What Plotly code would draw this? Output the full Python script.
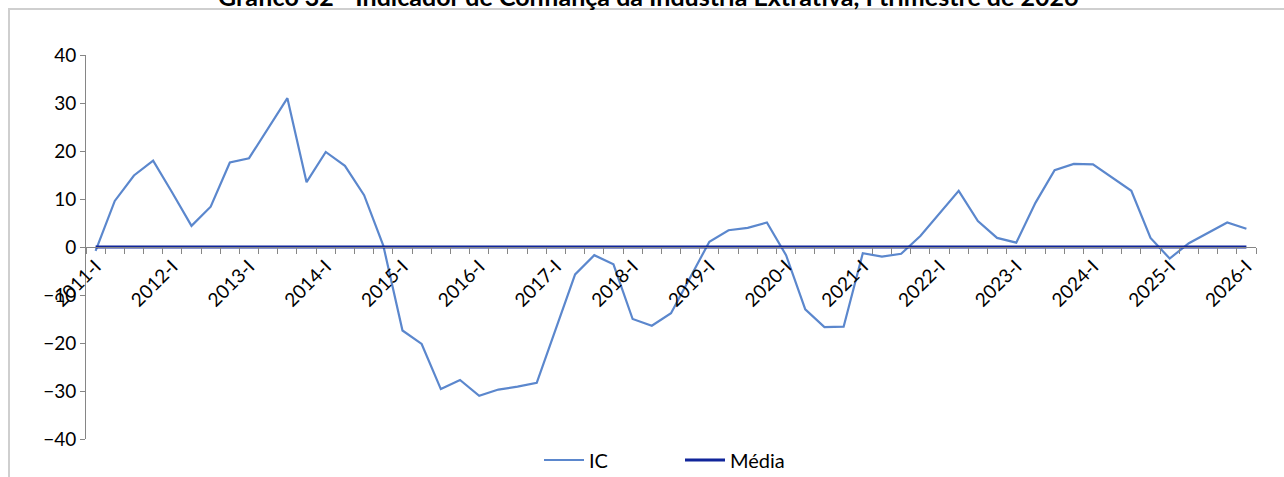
import plotly.graph_objects as go

years = list(range(2011, 2027))
roman = ["I", "II", "III", "IV"]
categories = [f"{y}-{q}" for y in years for q in roman][:61]

ic = [-0.8, 9.6, 14.9, 18.0, 11.3, 4.4, 8.4, 17.6, 18.5, 24.7,
      31.0, 13.5, 19.8, 16.9, 10.8, 0.3, -17.4, -20.2, -29.6, -27.7,
      -31.0, -29.7, -29.1, -28.3, -17.0, -5.7, -1.7, -3.6, -15.0, -16.4,
      -13.8, -6.5, 1.1, 3.5, 4.0, 5.1, -1.7, -13.0, -16.7, -16.6,
      -1.3, -2.0, -1.4, 2.3, 7.1, 11.7, 5.4, 1.9, 0.9, 9.2,
      16.0, 17.3, 17.2, 14.5, 11.7, 1.9, -2.4, 0.8, 2.9, 5.1,
      3.8]
media_value = 0.0
media = [media_value for _ in categories]

label_idx = [i for i, c in enumerate(categories) if c.endswith("-I")]
label_txt = [categories[i] for i in label_idx]

title = "Gráfico 32 - Indicador de Confiança da Indústria Extrativa, I trimestre de 2026"

FONT = "Lato"
xs = list(range(len(categories)))

fig = go.Figure()
fig.add_trace(go.Scatter(x=xs, y=ic, mode="lines", name="IC",
                         line=dict(color="#5B87CD", width=2.2)))
fig.add_trace(go.Scatter(x=xs, y=media, mode="lines", name="Média",
                         line=dict(color="#10259A", width=2.8)))

W, H = 1284, 477
pw, ph = 1170, 384
L, T = 86, 55
R = W - L - pw
B = H - T - ph

fig.update_layout(
    width=W, height=H,
    margin=dict(l=L, r=R, t=T, b=B, autoexpand=False),
    paper_bgcolor="white", plot_bgcolor="white",
    font=dict(family=FONT, size=19, color="#000000"),
    showlegend=True,
    legend=dict(orientation="h", x=(539 - L) / pw, xanchor="left",
                y=-(460 - (T + ph)) / ph, yanchor="middle",
                font=dict(family=FONT, size=20, color="#000000"),
                entrywidth=86, entrywidthmode="pixels",
                itemwidth=40, tracegroupgap=0, bgcolor="rgba(0,0,0,0)"),
    xaxis=dict(range=[-0.5, len(categories) - 0.5],
               tickmode="array", tickvals=label_idx, ticktext=label_txt,
               tickangle=-45, ticks="", showgrid=False, zeroline=False,
               showline=True, linecolor="#868686", linewidth=1,
               anchor="free", position=0.5, automargin=False,
               tickfont=dict(family=FONT, size=19, color="#000000"),
               minor=dict(tick0=-0.5, dtick=1, ticks="outside",
                          ticklen=6, tickcolor="#868686", tickwidth=1,
                          showgrid=False)),
    yaxis=dict(range=[-40, 40], dtick=10, tick0=0, showgrid=False,
               zeroline=False, showline=True, linecolor="#868686",
               linewidth=1, ticks="outside", ticklen=5, automargin=False,
               tickcolor="#868686",
               tickfont=dict(family=FONT, size=19, color="#000000")),
)

fig.add_shape(type="rect", xref="paper", yref="paper",
              x0=(9 - L) / pw, x1=(W + 10 - L) / pw,
              y0=-(H + 10 - T - ph) / ph, y1=1 + (T - 9) / ph,
              line=dict(color="#CFCFCF", width=2), fillcolor="rgba(0,0,0,0)",
              layer="below")

fig.add_annotation(text=f"<b>{title}</b>", xref="paper", yref="paper",
                   x=(648 - L) / pw, y=1 + (T - 13) / ph,
                   xanchor="center", yanchor="bottom", showarrow=False,
                   font=dict(family=FONT, size=25, color="#000000"))

fig.write_html("out.html",
               config={"displayModeBar": False},
               post_script="document.body.style.margin='0';"
                           "document.body.style.overflow='hidden';")
